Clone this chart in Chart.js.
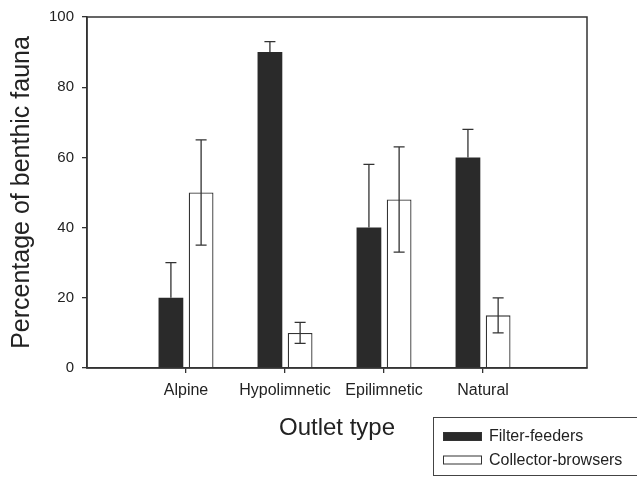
<!DOCTYPE html>
<html>
<head>
<meta charset="utf-8">
<script src="https://cdn.jsdelivr.net/npm/chart.js@4/dist/chart.umd.min.js"></script>
<style>
  html, body { margin: 0; padding: 0; background: #fff; }
  #wrap { width: 637px; height: 477px; }
</style>
</head>
<body>
<div id="wrap"><canvas id="c" width="637" height="477"></canvas></div>
<script>
const categories = ['Alpine', 'Hypolimnetic', 'Epilimnetic', 'Natural'];
const filterFeeders = [20, 90, 40, 60];
const filterErr = [10, 3, 18, 8];
const collectorBrowsers = [50, 10, 48, 15];
const collectorErr = [15, 3, 15, 5];
const yTicks = [0, 20, 40, 60, 80, 100];
const seriesNames = ['Filter-feeders', 'Collector-browsers'];

const FONT = "'Liberation Sans', Arial, Helvetica, sans-serif";
const INK = '#2a2a2a';

function toPoints(vals) { return vals.map((v, i) => ({ x: i + 1, y: v })); }

const errorBars = {
  id: 'errorBars',
  afterDatasetsDraw(chart) {
    const ctx = chart.ctx;
    const ys = chart.scales.y;
    chart.data.datasets.forEach((ds, di) => {
      const meta = chart.getDatasetMeta(di);
      meta.data.forEach((el, i) => {
        const v = ds.data[i].y, e = ds.errors[i];
        const x = el.x;
        const yMid = ys.getPixelForValue(v);
        const yHi = ys.getPixelForValue(v + e);
        const yLo = ys.getPixelForValue(v - e);
        ctx.save();
        ctx.strokeStyle = '#333';
        ctx.lineWidth = 1.3;
        ctx.beginPath();
        ctx.moveTo(x, yHi);
        ctx.moveTo(x - 5.5, yHi); ctx.lineTo(x + 5.5, yHi);
        ctx.moveTo(x, yHi);
        if (ds.filled) {
          ctx.lineTo(x, yMid);
        } else {
          ctx.lineTo(x, yLo);
          ctx.moveTo(x - 5.5, yLo); ctx.lineTo(x + 5.5, yLo);
        }
        ctx.stroke();
        ctx.restore();
      });
    });
  }
};

const frame = {
  id: 'frame',
  afterDraw(chart) {
    const { ctx, chartArea: a } = chart;
    ctx.save();
    ctx.strokeStyle = '#333';
    ctx.lineWidth = 1.5;
    ctx.strokeRect(a.left, a.top, a.right - a.left, a.bottom - a.top);
    // legend box
    ctx.lineWidth = 1;
    ctx.strokeStyle = '#444';
    ctx.strokeRect(433.5, 417.5, 215, 58);
    const items = chart.data.datasets;
    ctx.font = '16px ' + FONT;
    ctx.textBaseline = 'middle';
    items.forEach((ds, i) => {
      const y = 432 + i * 23.5;
      ctx.fillStyle = ds.backgroundColor;
      ctx.fillRect(443, y, 39, 9);
      ctx.strokeStyle = '#333';
      ctx.lineWidth = 1;
      ctx.strokeRect(443.5, y + 0.5, 38, 8);
      ctx.fillStyle = '#222';
      ctx.fillText(ds.label, 489, y + 5);
    });
    ctx.restore();
  }
};

new Chart(document.getElementById('c'), {
  type: 'bar',
  data: {
    datasets: [
      { label: seriesNames[0], data: toPoints(filterFeeders), errors: filterErr, filled: true,
        backgroundColor: INK, borderColor: INK, borderWidth: 0 },
      { label: seriesNames[1], data: toPoints(collectorBrowsers), errors: collectorErr, filled: false,
        backgroundColor: '#ffffff', borderColor: '#333', borderWidth: 1.3 }
    ]
  },
  options: {
    responsive: false,
    animation: false,
    devicePixelRatio: 1,
    categoryPercentage: 0.61,
    barPercentage: 0.82,
    layout: { padding: { top: 16, right: 50, left: 0, bottom: 0 } },
    plugins: { legend: { display: false }, tooltip: { enabled: false } },
    scales: {
      x: {
        type: 'linear', min: 0, max: 5.05, offset: false,
        afterBuildTicks(scale) { scale.ticks = categories.map((c, i) => ({ value: i + 1 })); },
        afterFit(scale) { scale.height = 109; },
        ticks: {
          autoSkip: false, maxRotation: 0,
          callback: (v) => categories[Math.round(v) - 1] || '',
          font: { family: FONT, size: 16 }, color: '#222', padding: 8
        },
        grid: { display: true, offset: false, drawOnChartArea: false, drawTicks: true, tickLength: 5, color: '#333', lineWidth: 1.3 },
        border: { display: true, color: '#333', width: 1.5 },
        title: { display: true, text: 'Outlet type', font: { family: FONT, size: 24 }, color: '#222',
          padding: { top: 0, bottom: 34 } }
      },
      y: {
        min: 0, max: 100,
        afterBuildTicks(scale) { scale.ticks = yTicks.map(v => ({ value: v })); },
        afterFit(scale) { scale.width = 87; },
        ticks: { font: { family: FONT, size: 15 }, color: '#222', padding: 8 },
        grid: { display: true, drawOnChartArea: false, drawTicks: true, tickLength: 5, color: '#333', lineWidth: 1.3 },
        border: { display: true, color: '#333', width: 1.5 },
        title: { display: true, text: 'Percentage of benthic fauna', font: { family: FONT, size: 25 }, color: '#222',
          padding: { top: 7, bottom: 0 } }
      }
    }
  },
  plugins: [errorBars, frame]
});
</script>
</body>
</html>
